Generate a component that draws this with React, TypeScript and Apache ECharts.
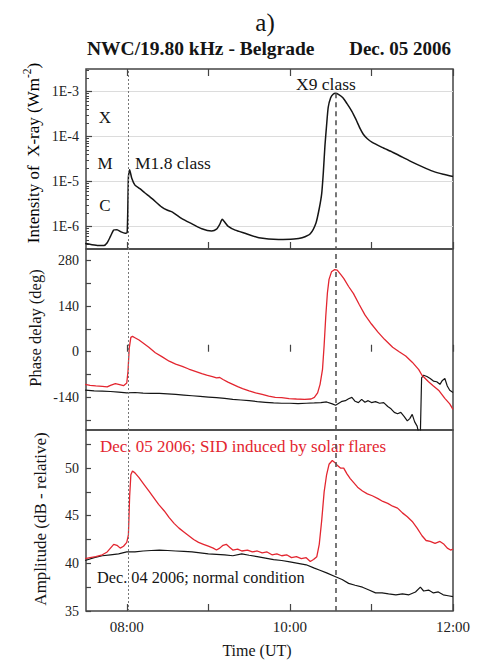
import React, { useEffect, useRef } from 'react';
import * as echarts from 'echarts';

// ---------- DATA ----------
const hourTicks = [8, 9, 10, 11, 12];
const hourLabels = [8, 10, 12];
const xrayDecades = [-6, -5, -4, -3];
const phaseTicks = [-210, -140, -70, 0, 70, 140, 210, 280];
const phaseLabels = [-140, 0, 140, 280];
const ampTicks = [35, 37.5, 40, 42.5, 45, 47.5, 50, 52.5];
const ampLabels = [35, 40, 45, 50];

const flare1Time = 8.02;
const flare2Time = 10.56;
const flare2PeakLog = -3.04;

// X-ray intensity (log10 W/m^2)
const xrayTime = [7.49, 7.56, 7.65, 7.72, 7.76, 7.8, 7.84, 7.88, 7.93, 7.98, 8.005, 8.02, 8.035, 8.06, 8.1, 8.16, 8.22, 8.31, 8.43, 8.5, 8.56, 8.68, 8.8, 8.92, 9.04, 9.1, 9.14, 9.17, 9.2, 9.24, 9.33, 9.45, 9.62, 9.86, 10.05, 10.15, 10.25, 10.32, 10.36, 10.39, 10.41, 10.43, 10.45, 10.47, 10.5, 10.53, 10.56, 10.6, 10.65, 10.7, 10.76, 10.81, 10.86, 10.9, 10.95, 11.01, 11.13, 11.26, 11.38, 11.5, 11.62, 11.75, 11.88, 12.0];
const xrayLog = [-6.38, -6.4, -6.42, -6.42, -6.36, -6.22, -6.08, -6.07, -6.12, -6.15, -6.13, -4.9, -4.74, -4.92, -5.08, -5.16, -5.25, -5.38, -5.57, -5.64, -5.68, -5.83, -5.94, -6.05, -6.1, -6.06, -5.95, -5.84, -5.9, -5.99, -6.08, -6.15, -6.25, -6.29, -6.28, -6.25, -6.16, -5.92, -5.6, -5.27, -4.8, -4.2, -3.75, -3.35, -3.14, -3.06, -3.04, -3.07, -3.14, -3.27, -3.44, -3.62, -3.82, -3.95, -4.05, -4.13, -4.24, -4.35, -4.46, -4.57, -4.67, -4.77, -4.84, -4.89];

// Phase delay (deg), Dec 05 (red)
const phaseRedTime = [7.49, 7.55, 7.62, 7.7, 7.76, 7.8, 7.86, 7.9, 7.96, 8.0, 8.015, 8.03, 8.05, 8.07, 8.1, 8.15, 8.2, 8.27, 8.35, 8.43, 8.52, 8.6, 8.68, 8.76, 8.84, 8.92, 8.98, 9.05, 9.1, 9.14, 9.18, 9.24, 9.3, 9.36, 9.42, 9.5, 9.58, 9.66, 9.74, 9.82, 9.9, 9.99, 10.08, 10.18, 10.26, 10.3, 10.34, 10.37, 10.4, 10.42, 10.44, 10.46, 10.48, 10.51, 10.55, 10.58, 10.62, 10.66, 10.72, 10.78, 10.85, 10.92, 11.0, 11.08, 11.16, 11.26, 11.34, 11.42, 11.5, 11.58, 11.62, 11.7, 11.76, 11.83, 11.9, 11.96, 12.0];
const phaseRed = [-100, -103, -105, -106, -108, -103, -98, -100, -104, -96, -60, 10, 44, 47, 43, 36, 27, 14, -3, -15, -29, -38, -45, -53, -60, -67, -72, -76, -80, -79, -85, -93, -100, -107, -113, -120, -126, -131, -136, -140, -141, -144, -145, -146, -145, -140, -126, -100, -54, 20, 109, 180, 222, 245, 252, 250, 238, 225, 200, 178, 145, 113, 85, 60, 38, 14, 0, -13, -32, -55, -72, -92, -105, -120, -143, -160, -177];

// Phase delay (deg), Dec 04 (black)
const phaseBlackTime = [7.49, 7.6, 7.7, 7.8, 7.9, 8.0, 8.1, 8.2, 8.3, 8.4, 8.5, 8.6, 8.7, 8.8, 8.9, 9.0, 9.1, 9.2, 9.3, 9.4, 9.5, 9.6, 9.7, 9.8, 9.9, 10.0, 10.1, 10.2, 10.3, 10.38, 10.45, 10.52, 10.56, 10.6, 10.64, 10.68, 10.72, 10.76, 10.8, 10.84, 10.88, 10.92, 10.96, 11.0, 11.05, 11.1, 11.15, 11.2, 11.24, 11.28, 11.32, 11.36, 11.4, 11.44, 11.47, 11.5, 11.53, 11.56, 11.58, 11.6, 11.615, 11.64, 11.68, 11.72, 11.76, 11.8, 11.84, 11.87, 11.9, 11.93, 11.96, 12.0];
const phaseBlack = [-118, -120, -121, -122, -124, -126, -125, -127, -128, -128, -129, -131, -133, -135, -137, -139, -141, -143, -146, -148, -150, -153, -155, -157, -158, -158, -159, -158, -157, -156, -154, -160, -164, -158, -152, -150, -144, -140, -152, -156, -146, -155, -150, -156, -153, -158, -156, -168, -175, -186, -190, -186, -198, -212, -205, -192, -215, -228, -250, -250, -80, -72, -76, -82, -90, -92, -100, -88, -82, -105, -118, -125];

// Amplitude (dB), Dec 05 (red)
const ampRedTime = [7.49, 7.55, 7.62, 7.7, 7.76, 7.8, 7.84, 7.88, 7.92, 7.96, 8.0, 8.02, 8.035, 8.05, 8.07, 8.1, 8.15, 8.21, 8.27, 8.33, 8.39, 8.46, 8.52, 8.58, 8.64, 8.7, 8.76, 8.82, 8.88, 8.94, 9.0, 9.06, 9.1, 9.14, 9.18, 9.22, 9.26, 9.3, 9.36, 9.41, 9.48, 9.54, 9.6, 9.66, 9.72, 9.78, 9.84, 9.9, 9.96, 10.02, 10.08, 10.14, 10.2, 10.25, 10.29, 10.33, 10.36, 10.39, 10.42, 10.45, 10.48, 10.52, 10.55, 10.58, 10.62, 10.66, 10.7, 10.74, 10.78, 10.83, 10.89, 10.95, 11.01, 11.08, 11.14, 11.2, 11.26, 11.32, 11.38, 11.44, 11.5, 11.56, 11.62, 11.67, 11.72, 11.78, 11.84, 11.89, 11.93, 11.97, 12.0];
const ampRed = [40.5, 40.6, 40.7, 40.9, 41.2, 41.6, 42.0, 41.9, 41.6, 41.8, 42.2, 43.0, 47.0, 49.3, 49.7, 49.5, 49.0, 48.3, 47.6, 46.9, 46.2, 45.5, 44.8, 44.2, 43.7, 43.3, 42.9, 42.5, 42.2, 42.0, 41.8, 41.6, 41.4, 41.6, 41.9, 42.0, 41.7, 41.4, 41.5, 41.3, 41.4, 41.2, 41.3, 41.1, 41.2, 40.9, 41.0, 40.8, 40.9, 40.6, 40.7, 40.5, 40.6, 40.2, 40.4, 40.7, 42.0, 44.5, 47.5, 49.3, 50.4, 50.8, 50.6, 50.3, 50.0, 50.0, 49.4, 48.9, 48.5, 48.0, 47.6, 47.3, 47.1, 46.8, 46.5, 46.3, 46.0, 45.8, 45.3, 44.9, 44.4, 43.7, 42.9, 42.4, 42.3, 42.1, 42.3, 42.0, 41.6, 41.4, 41.5];

// Amplitude (dB), Dec 04 (black)
const ampBlackTime = [7.49, 7.6, 7.7, 7.8, 7.9, 8.0, 8.1, 8.2, 8.3, 8.4, 8.5, 8.6, 8.7, 8.8, 8.9, 9.0, 9.1, 9.2, 9.3, 9.41, 9.5, 9.6, 9.7, 9.8, 9.9, 10.0, 10.1, 10.2, 10.3, 10.36, 10.45, 10.56, 10.64, 10.72, 10.8, 10.89, 10.97, 11.05, 11.13, 11.21, 11.3, 11.38, 11.46, 11.54, 11.6, 11.64, 11.7, 11.76, 11.82, 11.88, 11.94, 12.0];
const ampBlack = [40.3, 40.6, 40.8, 40.9, 41.0, 41.2, 41.2, 41.3, 41.35, 41.4, 41.35, 41.3, 41.25, 41.2, 41.1, 41.0, 40.95, 40.9, 40.8, 41.0, 40.85, 40.7, 40.55, 40.4, 40.3, 40.15, 40.0, 39.85, 39.5, 39.3, 39.0, 38.6, 38.3, 37.9, 37.7, 37.5, 37.2, 36.9, 36.9, 36.8, 36.7, 36.8, 36.7, 37.0, 37.5, 37.1, 37.2, 36.9, 37.0, 36.7, 36.6, 36.5];

// ---------- STYLE ----------
const FONT = '"Liberation Serif", "Times New Roman", serif';
const RED = '#e32630';
const BLACK = '#151515';
const FRAME = '#444';

const pairs = (xs: number[], ys: number[]) => xs.map((x, i) => [x, ys[i]]);
const hourFmt = (v: number) => (v < 10 ? '0' : '') + v + ':00';

const logMinor: number[] = [];
[-7, -6, -5, -4, -3].forEach((d) => {
  [2, 3, 4, 5, 6, 7, 8, 9].forEach((k) => {
    const v = d + Math.log10(k);
    if (v > -6.5 && v < -2.5) logMinor.push(v);
  });
});

const tickStyle = { color: FRAME, width: 1.2 };
const labelStyle = { fontFamily: FONT, fontSize: 14, color: '#222', margin: 7 };

function xAx(gridIndex: number, extra: any = {}) {
  return {
    type: 'value',
    gridIndex,
    min: 7.5,
    max: 12,
    axisLine: { show: false },
    axisTick: { show: true, inside: true, length: 7, customValues: hourTicks, lineStyle: tickStyle },
    axisLabel: { show: false },
    splitLine: { show: false },
    ...extra,
  };
}

const dottedLine = { color: '#777', type: [2, 2], width: 1 };
const dashedLine = { color: '#555', type: [5, 4], width: 1.6 };

const fullMarks = {
  silent: true,
  symbol: 'none',
  label: { show: false },
  animation: false,
  data: [
    { xAxis: flare1Time, lineStyle: dottedLine },
    { xAxis: flare2Time, lineStyle: dashedLine },
  ],
};

function text(x: number, y: number, t: string, font: string, extra: any = {}, styleExtra: any = {}) {
  return {
    type: 'text',
    x,
    y,
    ...extra,
    style: { text: t, font, fill: BLACK, textAlign: 'left', textVerticalAlign: 'middle', ...styleExtra },
  };
}

export default function App() {
  const ref = useRef<HTMLDivElement>(null);
  useEffect(() => {
    if (!ref.current) return;
    const chart = echarts.init(ref.current, undefined, { renderer: 'svg' });
    const option: any = {
      animation: false,
      backgroundColor: '#fff',
      grid: [
        { left: 86, top: 69, width: 367, height: 180, show: true, borderColor: FRAME, borderWidth: 1.5 },
        { left: 86, top: 249, width: 367, height: 181, show: true, borderColor: FRAME, borderWidth: 1.5 },
        { left: 86, top: 430, width: 367, height: 181, show: true, borderColor: FRAME, borderWidth: 1.5 },
      ],
      xAxis: [
        xAx(0, { position: 'bottom' }),
        xAx(0, { position: 'top' }),
        xAx(1, { position: 'bottom' }),
        xAx(2, {
          position: 'bottom',
          axisLabel: { show: true, customValues: hourLabels, formatter: hourFmt, ...labelStyle, fontSize: 15, margin: 8 },
        }),
      ],
      yAxis: [
        {
          type: 'value', gridIndex: 0, min: -6.5, max: -2.5,
          axisLine: { show: false },
          axisTick: { inside: true, length: 6, customValues: xrayDecades, lineStyle: tickStyle },
          axisLabel: { customValues: xrayDecades, formatter: (v: number) => '1E' + v, ...labelStyle },
          splitLine: { show: true, lineStyle: { color: '#dcdcdc', width: 1 } },
        },
        {
          type: 'value', gridIndex: 0, min: -6.5, max: -2.5, position: 'left',
          axisLine: { show: false },
          axisTick: { inside: true, length: 3, customValues: logMinor, lineStyle: { color: FRAME, width: 1 } },
          axisLabel: { show: false },
          splitLine: { show: false },
        },
        {
          type: 'value', gridIndex: 1, min: -240, max: 315,
          axisLine: { show: false },
          axisTick: { inside: true, length: 5, customValues: phaseTicks, lineStyle: tickStyle },
          axisLabel: { customValues: phaseLabels, ...labelStyle },
          splitLine: { show: false },
        },
        {
          type: 'value', gridIndex: 2, min: 35, max: 54,
          axisLine: { show: false },
          axisTick: { inside: true, length: 5, customValues: ampTicks, lineStyle: tickStyle },
          axisLabel: { customValues: ampLabels, ...labelStyle },
          splitLine: { show: false },
        },
      ],
      series: [
        {
          type: 'line', xAxisIndex: 0, yAxisIndex: 0,
          data: pairs(xrayTime, xrayLog),
          showSymbol: false, smooth: 0.2,
          lineStyle: { color: BLACK, width: 1.5 },
          markLine: {
            silent: true, symbol: 'none', label: { show: false }, animation: false,
            data: [
              { xAxis: flare1Time, lineStyle: dottedLine },
              [
                { coord: [flare2Time, flare2PeakLog], lineStyle: dashedLine },
                { coord: [flare2Time, -6.5] },
              ],
            ],
          },
        },
        {
          type: 'line', xAxisIndex: 2, yAxisIndex: 2,
          data: pairs(phaseBlackTime, phaseBlack),
          showSymbol: false,
          lineStyle: { color: BLACK, width: 1.2 },
          markLine: fullMarks,
        },
        {
          type: 'line', xAxisIndex: 2, yAxisIndex: 2,
          data: pairs(phaseRedTime, phaseRed),
          showSymbol: false,
          lineStyle: { color: RED, width: 1.3 },
        },
        {
          type: 'line', xAxisIndex: 3, yAxisIndex: 3,
          data: pairs(ampBlackTime, ampBlack),
          showSymbol: false,
          lineStyle: { color: BLACK, width: 1.2 },
          markLine: fullMarks,
        },
        {
          type: 'line', xAxisIndex: 3, yAxisIndex: 3,
          data: pairs(ampRedTime, ampRed),
          showSymbol: false,
          lineStyle: { color: RED, width: 1.3 },
        },
      ],
      graphic: [
        text(265, 22, 'a)', `25px ${FONT}`, {}, { textAlign: 'center' }),
        text(87, 48, 'NWC/19.80 kHz - Belgrade', `bold 19.5px ${FONT}`),
        text(451, 48, 'Dec. 05 2006', `bold 19px ${FONT}`, {}, { textAlign: 'right' }),
        text(296, 84, 'X9 class', `17.5px ${FONT}`),
        text(105, 117, 'X', `17px ${FONT}`, {}, { textAlign: 'center' }),
        text(105, 163, 'M', `17px ${FONT}`, {}, { textAlign: 'center' }),
        text(105, 205, 'C', `17px ${FONT}`, {}, { textAlign: 'center' }),
        text(135, 163, 'M1.8 class', `17.5px ${FONT}`),
        {
          type: 'text', x: 31, y: 153, rotation: Math.PI / 2,
          style: {
            text: '{a|Intensity of  X-ray (Wm}{s|-2}{a|)}',
            textAlign: 'center', textVerticalAlign: 'middle',
            rich: {
              a: { fontFamily: FONT, fontSize: 17, color: BLACK, lineHeight: 21, verticalAlign: 'bottom' },
              s: { fontFamily: FONT, fontSize: 11.5, color: BLACK, lineHeight: 21, verticalAlign: 'top' },
            },
          },
        },
        text(35, 328, 'Phase delay (deg)', `16.5px ${FONT}`, { rotation: Math.PI / 2 }, { textAlign: 'center' }),
        text(40, 519, 'Amplitude (dB - relative)', `17px ${FONT}`, { rotation: Math.PI / 2 }, { textAlign: 'center' }),
        text(100, 446, 'Dec. 05 2006; SID induced by solar flares', `17px ${FONT}`, {}, { fill: RED }),
        text(97, 577, 'Dec. 04 2006; normal condition', `16.3px ${FONT}`),
        text(257, 650, 'Time (UT)', `16px ${FONT}`, {}, { textAlign: 'center' }),
      ],
    };
    chart.setOption(option);
    return () => chart.dispose();
  }, []);
  return <div ref={ref} style={{ position: 'fixed', left: 0, top: 0, width: 481, height: 663, background: '#fff' }} />;
}
